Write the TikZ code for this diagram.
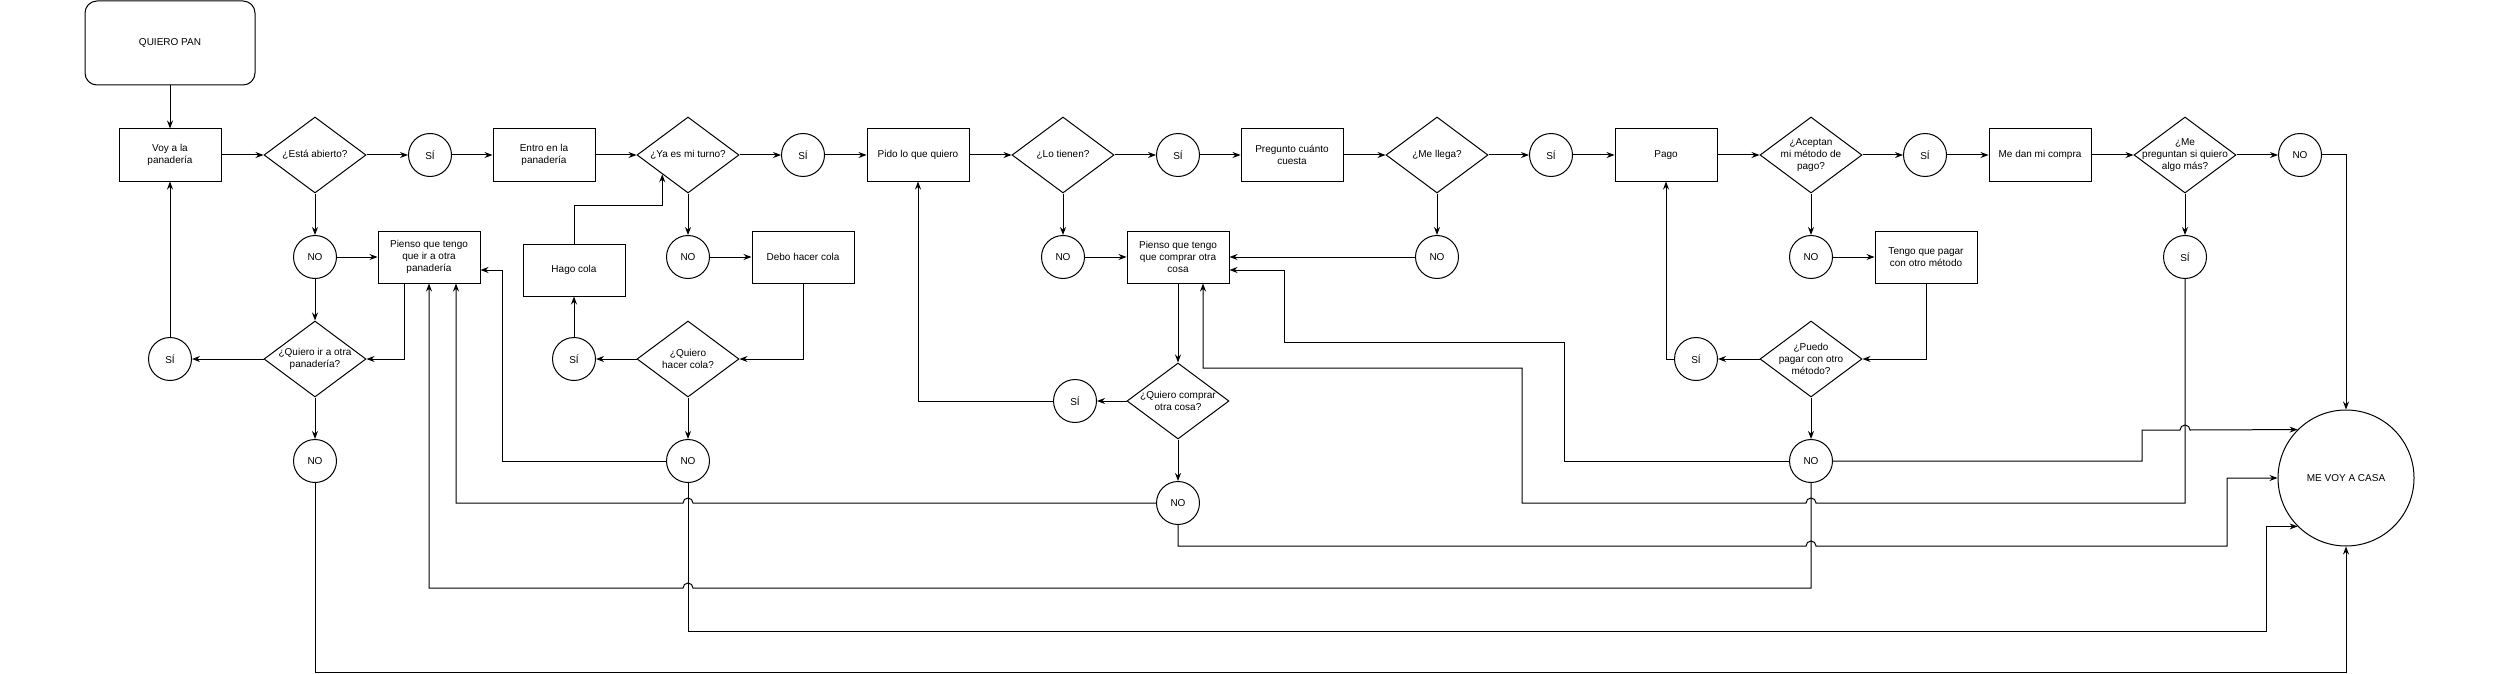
\documentclass[tikz,border=0pt]{standalone}
\usepackage{fontspec}
\setmainfont{Liberation Sans}
\usetikzlibrary{shapes.geometric, arrows.meta}

\begin{document}
\begin{tikzpicture}[x=1pt, y=-1pt, line width=1pt,
        font=\fontsize{10}{12}\selectfont,
        stepbox/.style={rectangle, draw, minimum width=102pt, minimum height=52pt, align=center, inner sep=1pt},
        decision/.style={diamond, draw, minimum width=102pt, minimum height=76pt, inner sep=0pt},
        answer/.style={circle, draw, minimum size=43pt, inner sep=0pt},
        arr/.style={-{Stealth[length=8pt, width=6pt]}}]
        \useasboundingbox (0,0) rectangle (2500,674);

        % Nodes
        \node[draw, rounded corners=12pt, minimum width=170pt, minimum height=84pt] (pan) at (170,43) {QUIERO PAN};
        \node[stepbox] (voy) at (170,155) {Voy a la\\panadería};
        \node[decision, label={[align=center]center:¿Está abierto?}] (abierto) at (315,155) {};
        \node[answer] (si1) at (430,155) {SÍ};
        \node[stepbox] (entro) at (544,155) {Entro en la\\panadería};
        \node[decision, label={[align=center]center:¿Ya es mi turno?}] (turno) at (688,155) {};
        \node[answer] (si2) at (803,155) {SÍ};
        \node[stepbox] (pido) at (918,155) {Pido lo que quiero};
        \node[decision, label={[align=center]center:¿Lo tienen?}] (tienen) at (1063,155) {};
        \node[answer] (si3) at (1178,155) {SÍ};
        \node[stepbox] (pregunto) at (1292,155) {Pregunto cuánto\\cuesta};
        \node[decision, label={[align=center]center:¿Me llega?}] (llega) at (1437,155) {};
        \node[answer] (si4) at (1551,155) {SÍ};
        \node[stepbox] (pago) at (1666,155) {Pago};
        \node[decision, label={[align=center]center:{¿Aceptan\\mi método de\\pago?}}] (aceptan) at (1811,155) {};
        \node[answer] (si5) at (1925,155) {SÍ};
        \node[stepbox] (compra) at (2040,155) {Me dan mi compra};
        \node[decision, label={[align=center]center:{¿Me\\preguntan si quiero\\algo más?}}] (preguntan) at (2185,155) {};
        \node[answer] (no9) at (2300,155) {NO};

        \node[answer] (no1) at (315,257) {NO};
        \node[stepbox] (pienso1) at (429,257) {Pienso que tengo\\que ir a otra\\panadería};
        \node[stepbox] (hago) at (574,270) {Hago cola};
        \node[answer] (no2) at (688,257) {NO};
        \node[stepbox] (debo) at (803,257) {Debo hacer cola};
        \node[answer] (no3) at (1063,257) {NO};
        \node[stepbox] (pienso2) at (1178,257) {Pienso que tengo\\que comprar otra\\cosa};
        \node[answer] (no4) at (1437,257) {NO};
        \node[answer] (no5) at (1811,257) {NO};
        \node[stepbox] (tengo) at (1926,257) {Tengo que pagar\\con otro método};
        \node[answer] (si6) at (2185,257) {SÍ};

        \node[answer] (si7) at (170,359) {SÍ};
        \node[decision, label={[align=center]center:{¿Quiero ir a otra\\panadería?}}] (otra) at (315,359) {};
        \node[answer] (si8) at (574,359) {SÍ};
        \node[decision, label={[align=center]center:{¿Quiero\\hacer cola?}}] (hacer) at (688,359) {};
        \node[answer] (si9) at (1075,401) {SÍ};
        \node[decision, label={[align=center]center:{¿Quiero comprar\\otra cosa?}}] (comprar) at (1178,401) {};
        \node[answer] (si10) at (1696,359) {SÍ};
        \node[decision, label={[align=center]center:{¿Puedo\\pagar con otro\\método?}}] (puedo) at (1811,359) {};

        \node[answer] (no6) at (315,461) {NO};
        \node[answer] (no7) at (688,461) {NO};
        \node[answer] (no8) at (1178,503) {NO};
        \node[answer] (no10) at (1811,461) {NO};

        \node[circle, draw, minimum size=136pt, inner sep=0pt] (casa) at (2346,478) {ME VOY A CASA};

        % Edges
        \draw[arr] (pan) -- (voy);
        \draw[arr] (voy) -- (abierto);
        \draw[arr] (abierto) -- (si1);
        \draw[arr] (si1) -- (entro);
        \draw[arr] (entro) -- (turno);
        \draw[arr] (turno) -- (si2);
        \draw[arr] (si2) -- (pido);
        \draw[arr] (pido) -- (tienen);
        \draw[arr] (tienen) -- (si3);
        \draw[arr] (si3) -- (pregunto);
        \draw[arr] (pregunto) -- (llega);
        \draw[arr] (llega) -- (si4);
        \draw[arr] (si4) -- (pago);
        \draw[arr] (pago) -- (aceptan);
        \draw[arr] (aceptan) -- (si5);
        \draw[arr] (si5) -- (compra);
        \draw[arr] (compra) -- (preguntan);
        \draw[arr] (preguntan) -- (no9);
        \draw[arr] (no9) -| (casa);

        \draw[arr] (abierto) -- (no1);
        \draw[arr] (no1) -- (pienso1);
        \draw[arr] (no1) -- (otra);
        \draw[arr] ([xshift=-25pt]pienso1.south) |- (otra);
        \draw[arr] (otra) -- (si7);
        \draw[arr] (si7) -- (voy);
        \draw[arr] (otra) -- (no6);
        \draw[arr] (no6) -- (315,672) -| (casa);

        \draw[arr] (turno) -- (no2);
        \draw[arr] (no2) -- (debo);
        \draw[arr] (debo) |- (hacer);
        \draw[arr] (hacer) -- (si8);
        \draw[arr] (si8) -- (hago);
        \draw[arr] (hago) -- (574,205) -| (turno.south west);
        \draw[arr] (hacer) -- (no7);
        \draw[arr] (no7) -- (502,461) |- ([yshift=-13pt]pienso1.east);
        \draw[arr] (no7) |- (2266,631) |- (casa.south west);

        \draw[arr] (tienen) -- (no3);
        \draw[arr] (no3) -- (pienso2);
        \draw[arr] (pienso2) -- (comprar);
        \draw[arr] (comprar) -- (si9);
        \draw[arr] (si9) -| (pido);
        \draw[arr] (comprar) -- (no8);
        \draw[arr] (no8) -- (693,503) arc[start angle=0, end angle=180, radius=5pt] -- (456,503) -- ([xshift=27pt]pienso1.south);
        \draw[arr] (no8) |- (1806,546) arc[start angle=180, end angle=0, radius=5pt] -- (2227,546) |- (casa);

        \draw[arr] (llega) -- (no4);
        \draw[arr] (no4) -- (pienso2);

        \draw[arr] (aceptan) -- (no5);
        \draw[arr] (no5) -- (tengo);
        \draw[arr] (tengo) |- (puedo);
        \draw[arr] (puedo) -- (si10);
        \draw[arr] (si10) -| (pago);
        \draw[arr] (puedo) -- (no10);
        \draw[arr] (no10) -| (1564,342) -| (1284,270) -- ([yshift=-13pt]pienso2.east);
        \draw[arr] (no10) -| (2142,430) -- (2180,430) arc[start angle=180, end angle=0, radius=5pt] -- (casa.north west);
        \draw[arr] (no10) |- (693,588) arc[start angle=0, end angle=180, radius=5pt] -- (429,588) -- (pienso1);

        \draw[arr] (preguntan) -- (si6);
        \draw[arr] (si6) |- (1816,503) arc[start angle=0, end angle=180, radius=5pt] -- (1522,503) |- (1203,368) -- ([xshift=25pt]pienso2.south);
    \end{tikzpicture}
\end{document}
